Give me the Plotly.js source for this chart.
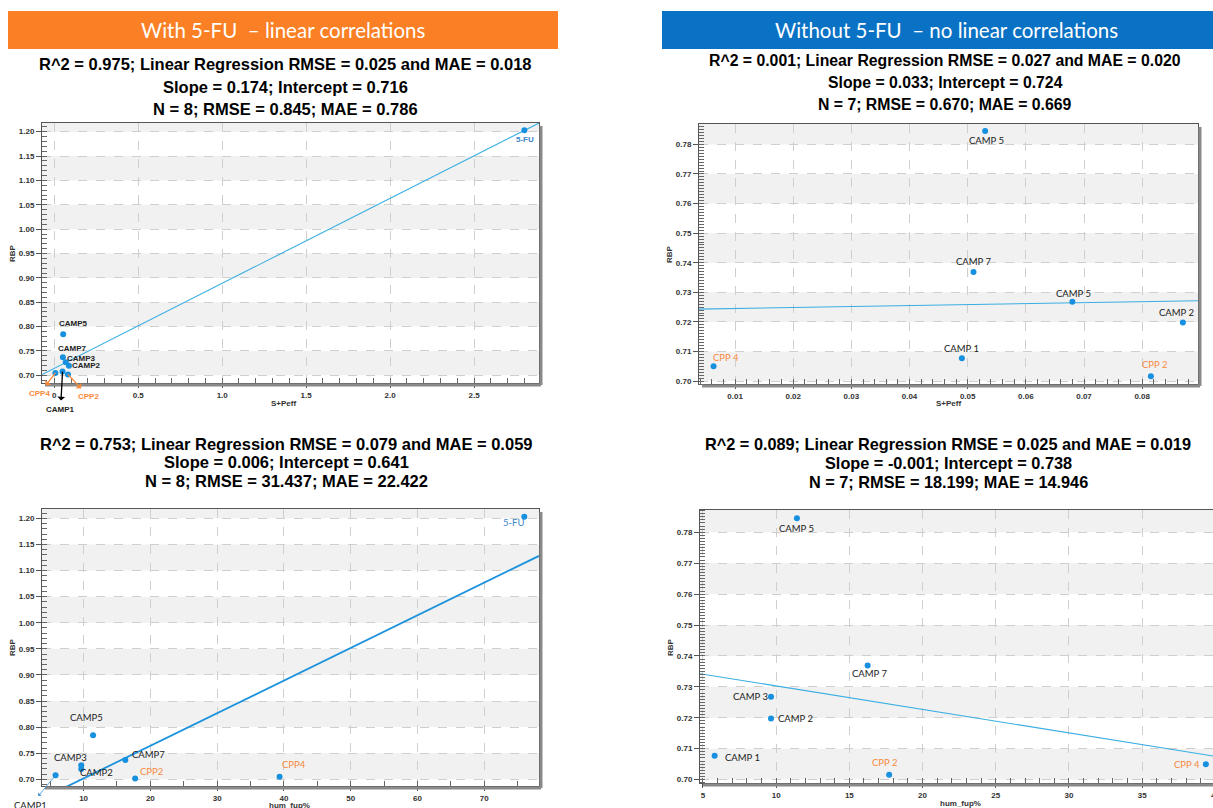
<!DOCTYPE html>
<html><head><meta charset="utf-8">
<script src="https://cdn.plot.ly/plotly-3.0.1.min.js"></script>
<style>html,body{margin:0;padding:0;overflow:hidden;background:#fff;width:1213px;height:808px}#chart{width:1240px;height:808px}</style>
</head><body><div id="chart"></div>
<script>
// ---------------- DATA ----------------
const compounds = ['CAMP1','CAMP2','CAMP3','CAMP5','CAMP7','CPP2','CPP4','5-FU'];
const sPeff  = [0.049, 0.087, 0.068, 0.053, 0.051, 0.0815, 0.0063, 2.80];
const humFup = [5.8, 9.65, 9.65, 11.42, 16.25, 17.72, 39.35, 76.0];
const rbp    = [0.7077, 0.7198, 0.7268, 0.7845, 0.7369, 0.7016, 0.7050, 1.203];
// labels as printed in each panel
const labelsTL = ['CAMP1','CAMP2','CAMP3','CAMP5','CAMP7','CPP2','CPP4','5-FU'];
const labelsTR = ['CAMP 1','CAMP 2','CAMP 5','CAMP 5','CAMP 7','CPP 2','CPP 4'];
const labelsBL = ['CAMP1','CAMP2','CAMP3','CAMP5','CAMP7','CPP2','CPP4','5-FU'];
const labelsBR = ['CAMP 1','CAMP 2','CAMP 3','CAMP 5','CAMP 7','CPP 2','CPP 4'];
// linear fits (panel order: TL, TR, BL, BR)
const fitSlope     = [0.1743, 0.033, 0.00625, -0.00076];
const fitIntercept = [0.7145, 0.7242, 0.6393, 0.7379];
const panelTitles = [
  ['R^2 = 0.975; Linear Regression RMSE = 0.025 and MAE = 0.018','Slope = 0.174; Intercept = 0.716','N = 8; RMSE = 0.845; MAE = 0.786'],
  ['R^2 = 0.001; Linear Regression RMSE = 0.027 and MAE = 0.020','Slope = 0.033; Intercept = 0.724','N = 7; RMSE = 0.670; MAE = 0.669'],
  ['R^2 = 0.753; Linear Regression RMSE = 0.079 and MAE = 0.059','Slope = 0.006; Intercept = 0.641','N = 8; RMSE = 31.437; MAE = 22.422'],
  ['R^2 = 0.089; Linear Regression RMSE = 0.025 and MAE = 0.019','Slope = -0.001; Intercept = 0.738','N = 7; RMSE = 18.199; MAE = 14.946']
];
const headerTexts = ['With 5-FU  \u2013 linear correlations','Without 5-FU  \u2013 no linear correlations'];
const xTitles = ['S+Peff','S+Peff','hum_fup%','hum_fup%'];
const yTitle = 'RBP';
const tlXTickVals = [0, 0.5, 1.0, 1.5, 2.0, 2.5];
const tlXTickText = ['0','0.5','1.0','1.5','2.0','2.5'];

// ---------------- LAYOUT HELPERS ----------------
const W = 1240, H = 808;
const px = x => x / W, py = y => 1 - y / H;
const BLUE = '#1890e0', ORANGE = '#f7893b', DARK = '#222', LBLUE = '#3b86c8';
const colorOf = n => n.startsWith('CPP') ? ORANGE : (n === '5-FU' ? LBLUE : DARK);

const panels = [
  {box:[42,123,539,383], xr:[-0.0733,2.887], yr:[0.6843,1.2178], xd:0.5, xm:0.1, yd:0.05, ym:0.01,
   xs:sPeff, n:8, labels:labelsTL, bold:true, lineW:1.1, lineC:'#3aaee3', tsize:16.5,
   titleY:[64,87,109], titleX:285, xTitlePos:[283,403], yTitlePos:[13,253]},
  {box:[699,124,1198,384], xr:[0.0038,0.0896], yr:[0.699,0.7869], xd:0.01, xm:0.002, yd:0.01, ym:0.001,
   xs:sPeff, n:7, labels:labelsTR, bold:false, lineW:1.1, lineC:'#3aaee3', tsize:15.8,
   titleY:[61,83,104], titleX:945, xTitlePos:[948,403], yTitlePos:[669,254]},
  {box:[42,509,539,786], xr:[3.77,78.2], yr:[0.6872,1.2179], xd:10, xm:5, yd:0.05, ym:0.01,
   xs:humFup, n:8, labels:labelsBL, bold:false, lineW:1.8, lineC:'#1b92dc', tsize:16.5,
   titleY:[444,462,481], titleX:286, xTitlePos:[289,805], yTitlePos:[12,647]},
  {box:[700,510,1230,783], xr:[4.8,41.0], yr:[0.6989,0.7872], xd:5, xm:1, yd:0.01, ym:0.001,
   xs:humFup, n:7, labels:labelsBR, bold:false, lineW:1.1, lineC:'#3aaee3', tsize:16.3,
   titleY:[444,463,482], titleX:948, xTitlePos:[960,803], yTitlePos:[670,647]}
];
// label offsets in pixels [dx, dy(up)] per compound (style only)
const shifts = [
  [null,[18,0],[16,4],[10,11],[10,9],null,null,[1,-9]],
  [[0,10],[-6,10],[1,8],[1,-9],[0,10],[4,12],[12,9]],
  [null,[15,-4],[-11,8],[-7,18],[23,6],[16,7],[14,12],[-11,-6]],
  [[28,-2],[24,0],[-21,0],[0,-10],[2,-8],[-5,12],[-19,0]]
];
// arrow labels [panel, index, ax, ay, color]
const arrows = [
  [0,0,-2,38,'#000'],[0,5,21,22,ORANGE],[0,6,-16,21,ORANGE],[2,0,-25,30,'#3a8fd8']
];

const data = [], shapes = [], annotations = [];
const layout = {width:W, height:H, margin:{l:0,r:0,t:0,b:0}, showlegend:false,
  paper_bgcolor:'#fff', plot_bgcolor:'#fff', font:{family:'Liberation Sans, Arial, sans-serif'}};
const paperNote = (x, y, text, font, extra) => Object.assign({xref:'paper', yref:'paper', x:px(x), y:py(y), text:text,
  showarrow:false, xanchor:'center', yanchor:'middle', font:font}, extra || {});

panels.forEach((p, i) => {
  const k = i === 0 ? '' : String(i + 1);
  const xa = 'x' + k, ya = 'y' + k;
  const tickFont = {family:'Liberation Sans, Arial', size:8, color:'#333', weight:'bold'};
  const xaxis = {domain:[px(p.box[0]), px(p.box[2])], range:p.xr, anchor:ya,
    showline:true, mirror:true, linecolor:'#555', linewidth:1, zeroline:false,
    showgrid:true, gridcolor:'#cfcfcf', griddash:'dash', gridwidth:1,
    ticks:'outside', ticklen:4, tickcolor:'#555', tickfont:tickFont, dtick:p.xd,
    minor:{ticks:'inside', ticklen:5, dtick:p.xm, tickcolor:'#666', showgrid:false}};
  if (i === 0) { xaxis.tickmode = 'array'; xaxis.tickvals = tlXTickVals; xaxis.ticktext = tlXTickText; delete xaxis.dtick; }
  if (i === 1) xaxis.tickformat = '.2f';
  const yaxis = {domain:[py(p.box[3]), py(p.box[1])], range:p.yr, anchor:xa,
    showline:true, mirror:true, linecolor:'#555', linewidth:1, zeroline:false,
    showgrid:true, gridcolor:'#cfcfcf', griddash:'dash', gridwidth:1,
    ticks:'outside', ticklen:5, tickcolor:'#555', tickfont:tickFont, dtick:p.yd, tick0:0.7, tickformat:'.2f',
    minor:{ticks:'inside', ticklen:5, dtick:p.ym, tickcolor:'#666', showgrid:false}};
  layout['xaxis' + k] = xaxis; layout['yaxis' + k] = yaxis;

  // alternating bands
  for (let b = 0.70; b < p.yr[1]; b += 2 * p.yd) {
    shapes.push({type:'rect', xref:xa + ' domain', yref:ya, x0:0, x1:1, y0:b, y1:Math.min(b + p.yd, p.yr[1]),
      fillcolor:'#f1f1f1', line:{width:0}, layer:'below'});
  }
  // frame shadow
  shapes.push({type:'line', xref:'paper', yref:'paper', x0:px(p.box[0]+3), x1:px(p.box[2]+2), y0:py(p.box[3]+2), y1:py(p.box[3]+2), line:{color:'#8a8a8a', width:3}});
  shapes.push({type:'line', xref:'paper', yref:'paper', x0:px(p.box[2]+2), x1:px(p.box[2]+2), y0:py(p.box[1]+3), y1:py(p.box[3]+2), line:{color:'#8a8a8a', width:3}});

  // regression line
  const lx = [p.xr[0], p.xr[1]];
  data.push({type:'scatter', mode:'lines', x:lx, y:lx.map(v => fitSlope[i] * v + fitIntercept[i]),
    xaxis:xa, yaxis:ya, line:{color:p.lineC, width:p.lineW}, hoverinfo:'skip'});
  // points
  const xs = p.xs.slice(0, p.n), ys = rbp.slice(0, p.n);
  data.push({type:'scatter', mode:'markers', x:xs, y:ys, xaxis:xa, yaxis:ya,
    marker:{color:BLUE, size:6}, text:p.labels});

  // point labels
  p.labels.forEach((lab, j) => {
    const col = colorOf(compounds[j]);
    const font = p.bold ? {family:'Liberation Sans, Arial', size:8, color:col, weight:'bold'}
                        : {family:'Lato, sans-serif', size:9.5, color:col};
    const ar = arrows.find(a => a[0] === i && a[1] === j);
    if (ar) {
      annotations.push({xref:xa, yref:ya, x:xs[j], y:ys[j], text:lab, showarrow:true, ax:ar[2], ay:ar[3],
        arrowside:'start', arrowhead:2, arrowsize:1, arrowwidth:i === 2 ? 0.8 : 1.3, arrowcolor:ar[4],
        standoff:0, startstandoff:3, font:font});
    } else {
      const s = shifts[i][j];
      annotations.push({xref:xa, yref:ya, x:xs[j], y:ys[j], text:lab, showarrow:false,
        xanchor:'center', yanchor:'middle', xshift:s[0], yshift:s[1], font:font});
    }
  });

  // panel titles
  panelTitles[i].forEach((t, m) => {
    annotations.push(paperNote(p.titleX, p.titleY[m], '<b>' + t + '</b>',
      {family:'Liberation Sans, Arial', size:p.tsize, color:'#000'}));
  });
  // axis titles
  annotations.push(paperNote(p.xTitlePos[0], p.xTitlePos[1], '<b>' + xTitles[i] + '</b>',
    {family:'Liberation Sans, Arial', size:8, color:'#333'}));
  annotations.push(paperNote(p.yTitlePos[0], p.yTitlePos[1], '<b>' + yTitle + '</b>',
    {family:'Liberation Sans, Arial', size:8, color:'#333'}, {textangle:-90}));
});

// headers
shapes.push({type:'rect', xref:'paper', yref:'paper', x0:px(8), x1:px(558), y0:py(49), y1:py(11), fillcolor:'#fb7f24', line:{width:0}});
shapes.push({type:'rect', xref:'paper', yref:'paper', x0:px(662), x1:px(1240), y0:py(49), y1:py(11), fillcolor:'#0a72c4', line:{width:0}});
annotations.push(paperNote(283, 30, headerTexts[0], {family:'Lato, sans-serif', size:20.5, color:'#fff'}));
annotations.push(paperNote(946, 30, headerTexts[1], {family:'Lato, sans-serif', size:20.5, color:'#fff'}));

layout.shapes = shapes;
layout.annotations = annotations;
Plotly.newPlot('chart', data, layout, {staticPlot:true, displayModeBar:false});
</script></body></html>
